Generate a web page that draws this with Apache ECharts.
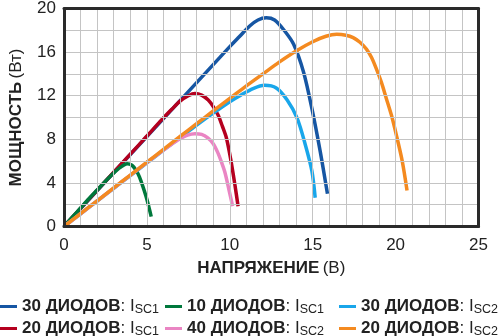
<!DOCTYPE html>
<html><head><meta charset="utf-8">
<script src="https://cdn.jsdelivr.net/npm/echarts@6/dist/echarts.min.js"></script>
<style>html,body{margin:0;padding:0;background:#fff}#c{width:499px;height:336px}</style>
</head><body><div id="c"></div>
<script>
// ---- data (voltage V, power W) ----
var blue30V  = [0, 1, 2, 3, 4, 5, 6, 7, 8, 9, 10, 10.6, 11.2, 11.7, 12.2, 12.7, 13.25, 13.85, 14.45, 14.95, 15.45, 15.89];
var blue30P  = [0, 1.65, 3.3, 4.95, 6.6, 8.25, 9.9, 11.55, 13.2, 14.85, 16.5, 17.45, 18.4, 18.95, 19.15, 18.95, 18.05, 16.72, 14.16, 10.84, 6.92, 3.0];
var red20V   = [0, 1, 2, 3, 4, 5, 5.9, 6.5, 7.0, 7.5, 7.9, 8.3, 8.7, 9.0, 9.3, 9.55, 9.8, 10.05, 10.3, 10.5];
var red20P   = [0, 1.66, 3.32, 4.98, 6.64, 8.3, 9.8, 10.75, 11.5, 12.0, 12.2, 12.05, 11.6, 11.0, 10.2, 9.2, 8.1, 6.2, 3.9, 1.86];
var green10V = [0, 0.5, 1, 1.5, 2, 2.5, 3.0, 3.4, 3.8, 4.1, 4.35, 4.55, 4.75, 4.95, 5.1, 5.26];
var green10P = [0, 0.85, 1.7, 2.55, 3.35, 4.15, 4.9, 5.42, 5.75, 5.62, 5.15, 4.55, 3.7, 2.75, 1.9, 0.9];
var lblue30V = [0, 1, 2, 3, 4, 5, 6, 7, 8, 9, 10, 10.66, 11.4, 12.1, 12.8, 13.46, 14.06, 14.55, 14.95, 15.15];
var lblue30P = [0, 1.17, 2.34, 3.5, 4.67, 5.83, 7.0, 8.15, 9.3, 10.4, 11.45, 12.05, 12.65, 12.95, 12.7, 11.6, 9.94, 7.53, 5.1, 2.64];
var pink40V  = [0, 1, 2, 3, 4, 5, 5.9, 6.45, 6.95, 7.45, 7.9, 8.3, 8.67, 9.0, 9.27, 9.5, 9.7, 9.96, 10.17];
var pink40P  = [0, 1.17, 2.35, 3.52, 4.7, 5.87, 6.9, 7.5, 8.0, 8.38, 8.52, 8.45, 8.13, 7.6, 6.8, 5.9, 5.0, 3.3, 1.86];
var orng20V  = [0, 1, 2, 3, 4, 5, 6, 7, 8, 9, 10, 11, 12, 13, 14, 15, 15.8, 16.45, 17.0, 17.44, 17.85, 18.24, 18.55, 18.84, 19.15, 19.44, 19.75, 20.04, 20.4, 20.69];
var orng20P  = [0, 1.18, 2.36, 3.54, 4.72, 5.9, 7.08, 8.26, 9.43, 10.6, 11.75, 12.9, 14.0, 15.1, 16.1, 16.95, 17.45, 17.63, 17.55, 17.33, 16.9, 16.27, 15.5, 14.46, 13.2, 11.75, 10.2, 8.43, 6.0, 3.3];

var seriesNames = ['30 ДИОДОВ: ISC1', '20 ДИОДОВ: ISC1', '10 ДИОДОВ: ISC1', '30 ДИОДОВ: ISC2', '40 ДИОДОВ: ISC2', '20 ДИОДОВ: ISC2'];
var xTickLabels = ['0', '5', '10', '15', '20', '25'];
var yTickLabels = ['0', '4', '8', '12', '16', '20'];
var xName = 'НАПРЯЖЕНИЕ', xUnit = '(В)';
var yName = 'МОЩНОСТЬ', yUnit = '(Вт)';

var colors = ['#1656a3', '#b5001f', '#00783c', '#19a6ea', '#ea85c3', '#f48a20'];
var vs = [blue30V, red20V, green10V, lblue30V, pink40V, orng20V];
var ps = [blue30P, red20P, green10P, lblue30P, pink40P, orng20P];

function pairs(a, b) { return a.map(function (v, i) { return [v, b[i]]; }); }

var FONT = '"Liberation Sans", Arial, sans-serif';
var series = seriesNames.map(function (n, i) {
  return {
    name: n, type: 'line', data: pairs(vs[i], ps[i]),
    showSymbol: false, smooth: 0.3,
    lineStyle: { width: 3.5, color: colors[i] }, itemStyle: { color: colors[i] },
    z: 2 + i
  };
});

function legendFmt(name) {
  var m = name.match(/^(.*): I(SC\d)$/);
  return '{b|' + m[1] + '}{n|: I}{s|' + m[2] + '}';
}
var legendRich = {
  b: { fontFamily: FONT, fontWeight: 'bold', fontSize: 17, color: '#222' },
  n: { fontFamily: FONT, fontSize: 17, color: '#222' },
  s: { fontFamily: FONT, fontSize: 12.5, color: '#222', padding: [7, 0, 0, 0] }
};
// legend slot positions: [left, top] for each series
var legendPos = [[0, 298], [0, 320], [165, 298], [339, 298], [165, 320], [339, 320]];
var legends = seriesNames.map(function (n, i) {
  return {
    data: [n], orient: 'horizontal', left: legendPos[i][0], top: legendPos[i][1],
    icon: 'rect', itemWidth: 17, itemHeight: 3, selectedMode: false,
    formatter: legendFmt, textStyle: { rich: legendRich, color: '#222' }, padding: 0
  };
});

var axisFrame = { show: true, onZero: false, lineStyle: { color: '#2a2a2a', width: 3 } };

var chart = echarts.init(document.getElementById('c'), null, { renderer: 'canvas' });
chart.setOption({
  animation: false,
  backgroundColor: '#fff',
  grid: { left: 61.5, right: 20.5, top: 6, bottom: 109.5 },
  xAxis: [{
    type: 'value', min: 0, max: 25, interval: 1,
    name: '{b|' + xName + '} {n|' + xUnit + '}', nameLocation: 'middle', nameGap: 33,
    nameTextStyle: { rich: {
      b: { fontFamily: FONT, fontWeight: 'bold', fontSize: 17, color: '#222' },
      n: { fontFamily: FONT, fontSize: 17, color: '#222' } } },
    axisLine: axisFrame, axisTick: { show: false },
    axisLabel: { margin: 10, fontFamily: FONT, fontSize: 17, color: '#222',
      formatter: function (v) { return v % 5 === 0 ? xTickLabels[v / 5] : ''; } },
    splitLine: { show: true, lineStyle: { color: '#c4c4c4', width: 1 } },
    z: 10
  }, {
    type: 'value', position: 'top', min: 0, max: 25, interval: 1,
    axisLine: axisFrame, axisTick: { show: false }, axisLabel: { show: false }, splitLine: { show: false }, z: 10
  }],
  yAxis: [{
    type: 'value', min: 0, max: 20, interval: 2,
    name: '{b|' + yName + '} {n|' + yUnit + '}', nameLocation: 'middle', nameGap: 39,
    nameTextStyle: { rich: {
      b: { fontFamily: FONT, fontWeight: 'bold', fontSize: 17, color: '#222' },
      n: { fontFamily: FONT, fontSize: 17, color: '#222' } } },
    axisLine: axisFrame, axisTick: { show: false },
    axisLabel: { margin: 8, fontFamily: FONT, fontSize: 17, color: '#222',
      formatter: function (v) { return v % 4 === 0 ? yTickLabels[v / 4] : ''; } },
    splitLine: { show: true, lineStyle: { color: '#c4c4c4', width: 1 } },
    z: 10
  }, {
    type: 'value', position: 'right', min: 0, max: 20, interval: 2,
    axisLine: axisFrame, axisTick: { show: false }, axisLabel: { show: false }, splitLine: { show: false }, z: 10
  }],
  legend: legends,
  series: series
});
</script></body></html>
